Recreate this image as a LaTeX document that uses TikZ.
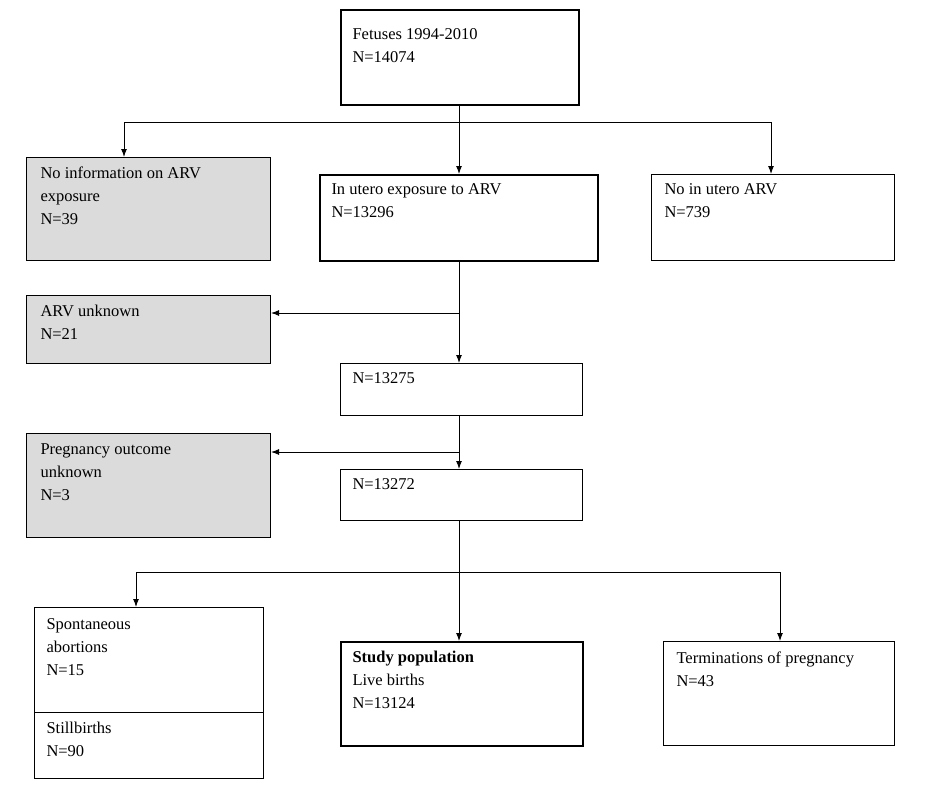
\documentclass[tikz,border=0pt]{standalone}
\usepackage{fontspec}
\setmainfont{Liberation Serif}
\usetikzlibrary{arrows.meta}
\begin{document}
\begin{tikzpicture}[x=1pt,y=-1pt,line width=1pt,
  box/.style={draw,anchor=north west,inner sep=0pt},
  grey/.style={box,fill=black!14},
  txt/.style={anchor=north west,align=left,inner sep=0pt,font=\fontsize{16.5}{23}\selectfont},
  arr/.style={-{Latex[length=8pt,width=6pt]}}]
\useasboundingbox (0,0) rectangle (929,800);

% Boxes
\node[box,line width=2pt,minimum width=238pt,minimum height=95pt] (top) at (340,9) {};
\node[grey,minimum width=244pt,minimum height=103pt] (noinfo) at (26,157) {};
\node[box,line width=2pt,minimum width=278pt,minimum height=86pt] (utero) at (319,174) {};
\node[box,minimum width=243pt,minimum height=86pt] (noarv) at (651,174) {};
\node[grey,minimum width=244pt,minimum height=68pt] (unk) at (26,295) {};
\node[box,minimum width=242pt,minimum height=52pt] (n1) at (340,363) {};
\node[grey,minimum width=244pt,minimum height=104pt] (preg) at (26,433) {};
\node[box,minimum width=242pt,minimum height=51pt] (n2) at (340,469) {};
\node[box,minimum width=229pt,minimum height=171pt] (spont) at (34,607) {};
\node[box,line width=2pt,minimum width=242pt,minimum height=104pt] (study) at (340,641) {};
\node[box,minimum width=231pt,minimum height=104pt] (term) at (663,641) {};
\draw (spont.west |- 0,712) -- (spont.east |- 0,712);

% Texts
\node[txt] at (352,28) {Fetuses 1994-2010\\N=14074};
\node[txt] at (40,166) {No information on ARV\\exposure\\N=39};
\node[txt] at (331,183) {In utero exposure to ARV\\N=13296};
\node[txt] at (664,183) {No in utero ARV\\N=739};
\node[txt] at (40,305) {ARV unknown\\N=21};
\node[txt] at (352,372) {N=13275};
\node[txt] at (40,443) {Pregnancy outcome\\unknown\\N=3};
\node[txt] at (352,478) {N=13272};
\node[txt] at (46,618) {Spontaneous\\abortions\\N=15};
\node[txt] at (46,722) {Stillbirths\\N=90};
\node[txt] at (352,651) {\textbf{Study population}\\Live births\\N=13124};
\node[txt] at (676,651) {Terminations of pregnancy\\N=43};

% Connectors
\coordinate (b1) at (459,122);
\coordinate (b2) at (459,572);
\draw (top.south -| b1) -- (b1);
\draw[arr] (b1) -| (noinfo.north -| 124,0);
\draw[arr] (b1) -| (noarv.north -| 771,0);
\draw[arr] (b1) -- (utero.north -| b1);
\draw[arr] (utero.south -| b1) -- (n1.north -| b1);
\draw[arr] (459,313) -- (unk.east |- 0,313);
\draw[arr] (n1.south -| b1) -- (n2.north -| b1);
\draw[arr] (459,452) -- (preg.east |- 0,452);
\draw (n2.south -| b1) -- (b2);
\draw[arr] (b2) -| (spont.north -| 136,0);
\draw[arr] (b2) -| (term.north -| 780,0);
\draw[arr] (b2) -- (study.north -| b2);
\end{tikzpicture}
\end{document}
